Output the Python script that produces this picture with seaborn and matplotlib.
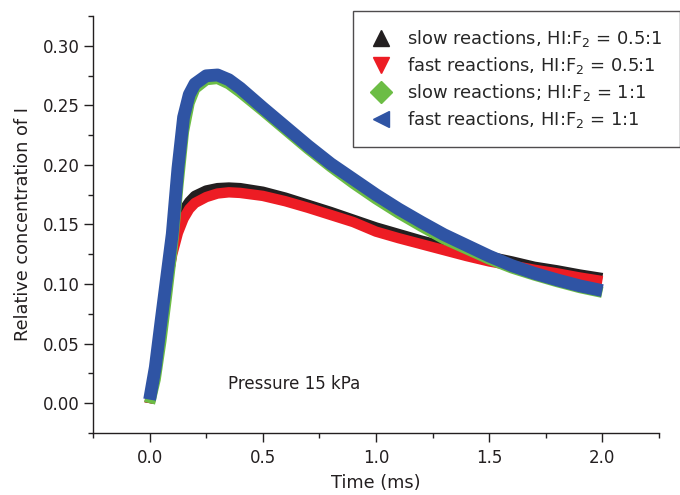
import numpy as np
import pandas as pd
import matplotlib
matplotlib.use('Agg')
import matplotlib.pyplot as plt
from matplotlib.lines import Line2D
import seaborn as sns

# time axis (ms)
tempo = [0.0, 0.025, 0.05, 0.075, 0.1, 0.125, 0.15, 0.175, 0.2, 0.25, 0.3, 0.35, 0.4,
         0.5, 0.6, 0.7, 0.8, 0.9, 1.0, 1.1, 1.2, 1.3, 1.4, 1.5, 1.6, 1.7, 1.8, 1.9, 2.0]

# relative concentration of I
lento_05 = [0.0, 0.025, 0.06, 0.097, 0.128, 0.149, 0.162, 0.169, 0.174, 0.1785, 0.1805, 0.181, 0.1805,
            0.1775, 0.1725, 0.1665, 0.1605, 0.154, 0.1475, 0.142, 0.1365, 0.1315, 0.127, 0.123,
            0.119, 0.1145, 0.1115, 0.108, 0.105]
rapido_05 = [0.0, 0.028, 0.063, 0.1, 0.125, 0.143, 0.155, 0.163, 0.168, 0.173, 0.176, 0.177, 0.1765,
             0.174, 0.1695, 0.164, 0.158, 0.152, 0.144, 0.1385, 0.1335, 0.1285, 0.1235, 0.119,
             0.1155, 0.112, 0.109, 0.1055, 0.1025]
lento_11 = [0.0, 0.02, 0.052, 0.09, 0.13, 0.182, 0.228, 0.252, 0.264, 0.2715, 0.2725, 0.268, 0.261,
            0.2455, 0.2295, 0.2135, 0.1985, 0.1845, 0.1715, 0.1595, 0.1485, 0.138, 0.1295, 0.121,
            0.1135, 0.1075, 0.102, 0.097, 0.093]
rapido_11 = [0.003, 0.03, 0.068, 0.105, 0.142, 0.197, 0.240, 0.259, 0.268, 0.2748, 0.2755, 0.2715, 0.2645,
             0.248, 0.232, 0.216, 0.201, 0.188, 0.175, 0.163, 0.152, 0.1415, 0.1325, 0.1235,
             0.1155, 0.109, 0.1035, 0.0985, 0.0945]

rotulos = ['slow reactions, HI:F$_2$ = 0.5:1', 'fast reactions, HI:F$_2$ = 0.5:1',
           'slow reactions; HI:F$_2$ = 1:1', 'fast reactions, HI:F$_2$ = 1:1']
series = [lento_05, rapido_05, lento_11, rapido_11]
cores = ['#231f20', '#ed1c24', '#6cbd45', '#2f54a4']
marcadores = ['^', 'v', 'D', '<']
larguras = [7.5, 7.5, 8.0, 9.2]

sns.set_style('ticks')
plt.rcParams['font.family'] = ['DejaVu Sans']
plt.rcParams['mathtext.fontset'] = 'dejavusans'

fig = plt.figure(figsize=(6.8, 4.95), dpi=100)
ax = fig.add_axes([0.1368, 0.1253, 0.8322, 0.8424])

for vals, cor, lw in zip(series, cores, larguras):
    sns.lineplot(x=tempo, y=vals, color=cor, lw=lw, ax=ax, legend=False,
                 solid_capstyle='butt', solid_joinstyle='round')

ax.set_xlim(-0.25, 2.25)
ax.set_ylim(-0.025, 0.325)
ax.set_xticks([0.0, 0.5, 1.0, 1.5, 2.0])
ax.set_xticks(np.arange(-0.25, 2.26, 0.25), minor=True)
ax.set_yticks(np.arange(0, 0.31, 0.05))
ax.set_yticks(np.arange(-0.025, 0.326, 0.025), minor=True)
ax.set_xticklabels(['0.0', '0.5', '1.0', '1.5', '2.0'])
ax.set_yticklabels(['%.2f' % v for v in np.arange(0, 0.31, 0.05)])
sns.despine(ax=ax)
for s in ['left', 'bottom']:
    ax.spines[s].set_linewidth(1.0)
    ax.spines[s].set_color('#231f20')
ax.tick_params(which='major', length=6.3, width=1.0, color='#231f20', labelsize=12,
               labelcolor='#231f20', direction='out')
ax.tick_params(which='minor', length=3.6, width=1.0, color='#231f20', direction='out')
ax.tick_params(axis='x', pad=5)
ax.tick_params(axis='y', pad=3)

ax.set_xlabel('Time (ms)', fontsize=12.8, color='#231f20', labelpad=5)
ax.set_ylabel('Relative concentration of I', fontsize=12.8, color='#231f20', labelpad=8)
ax.text(0.348, 0.016, 'Pressure 15 kPa', fontsize=12, color='#231f20', va='center')

alcas = [Line2D([], [], ls='none', marker=m, color=c, markersize=11)
         for m, c in zip(marcadores, cores)]
leg = fig.legend(alcas, rotulos, loc='upper right', bbox_to_anchor=(679.5 / 680, 1 - 11 / 495),
                 frameon=True, fancybox=False, fontsize=12.9, handletextpad=0.8,
                 labelspacing=0.34, borderpad=0.95, handlelength=1.3,
                 borderaxespad=0)
leg.get_frame().set_edgecolor('#231f20')
leg.get_frame().set_linewidth(1.0)

plt.savefig('out.png', dpi=100, facecolor='w', edgecolor='w')
